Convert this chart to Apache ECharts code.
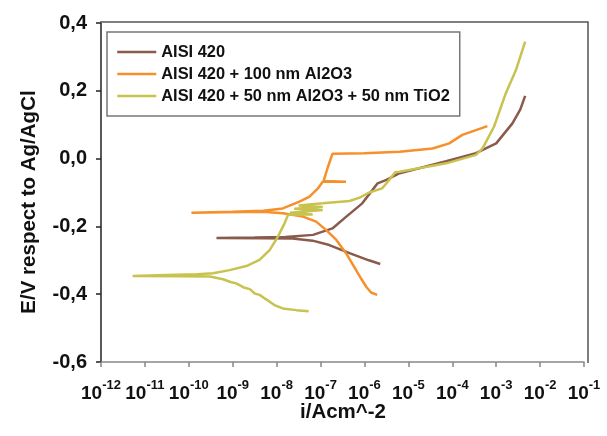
<!DOCTYPE html>
<html>
<head>
<meta charset="utf-8">
<script src="https://cdn.jsdelivr.net/npm/echarts@6/dist/echarts.min.js"></script>
<style>html,body{margin:0;padding:0;background:#fff}#c{width:607px;height:436px}</style>
</head>
<body>
<div id="c"></div>
<script>
// x values are log10(i / A cm^-2), y values are E / V
var seriesNames = ['AISI 420', 'AISI 420 + 100 nm Al2O3', 'AISI 420 + 50 nm Al2O3 + 50 nm TiO2'];
var xTickExponents = [-12, -11, -10, -9, -8, -7, -6, -5, -4, -3, -2, -1];
var yTicks = [-0.6, -0.4, -0.2, 0.0, 0.2, 0.4];
var xTitle = 'i/Acm^-2';
var yTitle = 'E/V respect to Ag/AgCl';

var aisi420 = [[-5.64,-0.311],[-5.9,-0.300],[-6.34,-0.279],[-6.8,-0.255],[-7.18,-0.242],[-7.64,-0.236],[-8.3,-0.235],[-9.37,-0.234],[-8.5,-0.233],[-7.8,-0.231],[-7.17,-0.225],[-6.73,-0.206],[-6.42,-0.172],[-6.05,-0.132],[-5.82,-0.093],[-5.7,-0.073],[-5.5,-0.063],[-5.2,-0.043],[-4.8,-0.030],[-4.14,-0.008],[-3.46,0.016],[-3.0,0.045],[-2.63,0.104],[-2.45,0.145],[-2.34,0.185]];

var aisi420Al2O3 = [[-5.71,-0.402],[-5.85,-0.395],[-5.96,-0.378],[-6.08,-0.353],[-6.19,-0.329],[-6.42,-0.279],[-6.64,-0.240],[-6.87,-0.211],[-7.1,-0.186],[-7.4,-0.171],[-7.86,-0.161],[-8.31,-0.157],[-9.2,-0.158],[-9.94,-0.160],[-9.0,-0.157],[-8.3,-0.154],[-7.86,-0.147],[-7.48,-0.127],[-7.25,-0.112],[-7.06,-0.088],[-6.95,-0.068],[-6.42,-0.068],[-6.93,-0.066],[-6.83,-0.024],[-6.73,0.014],[-6.0,0.016],[-5.2,0.020],[-4.45,0.030],[-4.07,0.045],[-3.77,0.070],[-3.46,0.084],[-3.2,0.096]];

var aisi420Al2O3TiO2 = [[-7.27,-0.450],[-7.55,-0.447],[-7.86,-0.442],[-8.05,-0.432],[-8.16,-0.422],[-8.3,-0.410],[-8.39,-0.402],[-8.5,-0.398],[-8.61,-0.385],[-8.75,-0.380],[-8.92,-0.368],[-9.05,-0.364],[-9.22,-0.356],[-9.52,-0.348],[-10.2,-0.347],[-11.28,-0.346],[-10.5,-0.343],[-9.8,-0.341],[-9.45,-0.338],[-9.07,-0.329],[-8.69,-0.317],[-8.39,-0.299],[-8.16,-0.270],[-7.97,-0.230],[-7.82,-0.191],[-7.74,-0.166],[-7.18,-0.165],[-7.7,-0.160],[-6.95,-0.152],[-7.6,-0.148],[-6.95,-0.143],[-7.5,-0.138],[-6.95,-0.132],[-6.34,-0.125],[-6.11,-0.115],[-5.89,-0.100],[-5.6,-0.088],[-5.45,-0.065],[-5.3,-0.040],[-5.2,-0.039],[-4.14,-0.014],[-3.46,0.011],[-3.31,0.030],[-3.05,0.094],[-2.78,0.193],[-2.55,0.261],[-2.34,0.345]];

var colors = ['#8a5a4a', '#f5902a', '#c8c24e'];
var FONT = 'Liberation Sans, Arial, sans-serif';

var chart = echarts.init(document.getElementById('c'), null, {renderer: 'canvas'});
function mk(name, data, color) {
  return {
    name: name, type: 'line', data: data, symbol: 'none', showSymbol: false, smooth: false,
    lineStyle: {color: color, width: 2.5}, itemStyle: {color: color},
    animation: false
  };
}
chart.setOption({
  animation: false,
  backgroundColor: '#fff',
  textStyle: {fontFamily: FONT},
  grid: {left: 101, right: 23, top: 23, bottom: 74},
  legend: {
    orient: 'vertical', left: 107, top: 32,
    padding: [12, 10, 12, 9], itemGap: 6, itemWidth: 39, itemHeight: 14, itemTextGap: 8,
    borderColor: '#777', borderWidth: 1.5, backgroundColor: '#fff',
    itemStyle: {opacity: 0},
    lineStyle: {width: 2.5, opacity: 1},
    textStyle: {fontFamily: FONT, fontWeight: 'bold', fontSize: 16.4, color: '#111'},
    data: seriesNames
  },
  xAxis: {
    type: 'value', min: xTickExponents[0], max: xTickExponents[xTickExponents.length-1], interval: 1,
    axisLine: {onZero: false, lineStyle: {color: '#888', width: 1.5}},
    axisTick: {inside: false, length: 5, lineStyle: {color: '#888', width: 1.5}},
    splitLine: {show: false},
    axisLabel: {
      margin: 17, color: '#111',
      formatter: function(v){ return '{b|10}{s|' + v + '}'; },
      rich: {
        b: {fontFamily: FONT, fontWeight: 'bold', fontSize: 19, lineHeight: 24, verticalAlign: 'bottom', color: '#111'},
        s: {fontFamily: FONT, fontWeight: 'bold', fontSize: 13, lineHeight: 24, verticalAlign: 'top', color: '#111'}
      }
    }
  },
  yAxis: {
    type: 'value', min: yTicks[0], max: yTicks[yTicks.length-1], interval: 0.2,
    axisLine: {onZero: false, lineStyle: {color: '#222', width: 1.5}},
    axisTick: {inside: false, length: 5, lineStyle: {color: '#222', width: 1.5}},
    splitLine: {show: false},
    axisLabel: {
      margin: 14, color: '#111', fontFamily: FONT, fontWeight: 'bold', fontSize: 20,
      formatter: function(v){ var t = Math.abs(v) < 1e-9 ? '0.0' : v.toFixed(1); return t.replace('.', ','); }
    }
  },
  graphic: [{
    type: 'polyline', silent: true, z: 1,
    shape: {points: [[100, 22], [588, 22], [588, 363]]},
    style: {stroke: '#555', lineWidth: 1.5, fill: null}
  }, {
    type: 'text', silent: true, x: 29, y: 202, rotation: Math.PI / 2,
    style: {text: yTitle, fontFamily: FONT, fontWeight: 'bold', fontSize: 20.5, fill: '#111', align: 'center', verticalAlign: 'middle'}
  }, {
    type: 'text', silent: true, x: 343, y: 412,
    style: {text: xTitle, fontFamily: FONT, fontWeight: 'bold', fontSize: 20.5, fill: '#111', align: 'center', verticalAlign: 'middle'}
  }],
  series: [
    mk(seriesNames[0], aisi420, colors[0]),
    mk(seriesNames[1], aisi420Al2O3, colors[1]),
    mk(seriesNames[2], aisi420Al2O3TiO2, colors[2])
  ]
});
</script>
</body>
</html>
